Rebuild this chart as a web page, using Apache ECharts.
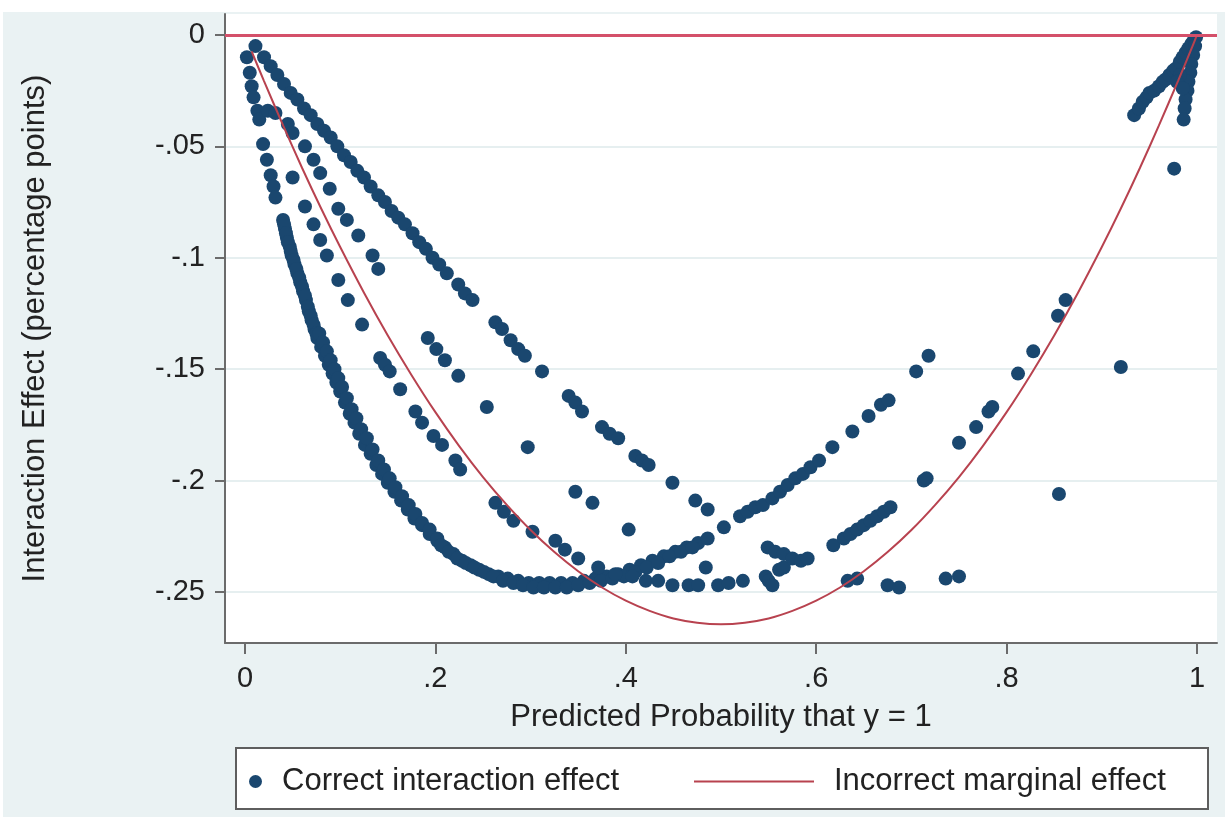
<!DOCTYPE html>
<html>
<head>
<meta charset="utf-8">
<title>Interaction effect vs predicted probability</title>
<script src="https://cdn.jsdelivr.net/npm/echarts@6.0.0/dist/echarts.min.js"></script>
<style>
html, body { margin: 0; padding: 0; background: #fff; }
#chart { position: absolute; left: 3px; top: 12px; width: 1222px; height: 805px; }
</style>
</head>
<body>
<div id="chart"></div>
<script>
// tick positions
var xTicks = [0, 0.2, 0.4, 0.6, 0.8, 1];
var yTicks = [0, -0.05, -0.1, -0.15, -0.2, -0.25];

var bandMain = [
	[0.002,-0.010],[0.005,-0.017],[0.007,-0.023],[0.009,-0.028],[0.013,-0.034],[0.015,-0.038],
	[0.019,-0.049],[0.023,-0.056],[0.027,-0.063],[0.030,-0.068],[0.032,-0.073],
	[0.040,-0.083],[0.042,-0.087],[0.044,-0.091],[0.047,-0.095],[0.049,-0.099],[0.052,-0.103],
	[0.055,-0.107],[0.058,-0.111],[0.061,-0.115],[0.064,-0.119],[0.067,-0.124],[0.070,-0.128],
	[0.073,-0.132],[0.076,-0.136],[0.080,-0.140],[0.084,-0.144],[0.088,-0.148],[0.092,-0.152],
	[0.096,-0.156],[0.100,-0.160],[0.105,-0.165],[0.110,-0.170],[0.115,-0.174],[0.120,-0.179],
	[0.126,-0.184],[0.132,-0.188],[0.138,-0.193],[0.144,-0.197],[0.150,-0.201],[0.157,-0.205],
	[0.164,-0.209],[0.171,-0.213],[0.178,-0.217],[0.186,-0.220],[0.194,-0.224],[0.202,-0.227],
	[0.210,-0.230],[0.219,-0.233],[0.228,-0.236],[0.237,-0.238],[0.246,-0.240],[0.256,-0.242],
	[0.266,-0.243],[0.276,-0.244],[0.287,-0.245],[0.298,-0.246],[0.309,-0.246],[0.320,-0.246],
	[0.332,-0.246],[0.344,-0.246],[0.356,-0.245],[0.368,-0.244],[0.380,-0.243],[0.392,-0.242],
	[0.404,-0.240],[0.416,-0.238],[0.428,-0.236],[0.440,-0.234],[0.452,-0.232],[0.464,-0.230],
	[0.476,-0.228],[0.486,-0.226]
];
var bandEdge = [
	[0.041,-0.085],[0.043,-0.089],[0.045,-0.093],[0.048,-0.097],[0.051,-0.101],[0.054,-0.105],
	[0.057,-0.109],[0.060,-0.113],[0.063,-0.117],[0.066,-0.122],[0.069,-0.126],[0.072,-0.130],
	[0.075,-0.134]
];
var bandInner = [
	[0.078,-0.134],[0.082,-0.138],[0.086,-0.142],[0.090,-0.146],[0.094,-0.150],[0.098,-0.154],
	[0.102,-0.158],[0.107,-0.163],[0.112,-0.168],[0.117,-0.172],[0.122,-0.177],[0.128,-0.181],
	[0.134,-0.186],[0.140,-0.191],[0.146,-0.195],[0.152,-0.199],[0.158,-0.203],[0.165,-0.207],
	[0.172,-0.211],[0.179,-0.215],[0.186,-0.219],[0.194,-0.222],[0.202,-0.226],
	[0.206,-0.229],[0.214,-0.232],[0.223,-0.235],[0.232,-0.237],[0.241,-0.239],[0.251,-0.241],
	[0.261,-0.243],[0.271,-0.245],[0.282,-0.246],[0.292,-0.247],[0.303,-0.248],[0.314,-0.248],
	[0.326,-0.248],[0.338,-0.248],[0.350,-0.247],[0.362,-0.246],[0.374,-0.245],[0.386,-0.244],
	[0.398,-0.243],[0.410,-0.241],[0.422,-0.239],[0.434,-0.237],[0.446,-0.234],[0.458,-0.232],
	[0.470,-0.230]
];
var armUpper = [
	[0.011,-0.005],[0.020,-0.010],[0.027,-0.014],[0.034,-0.018],[0.041,-0.022],[0.048,-0.026],
	[0.055,-0.029],[0.062,-0.033],[0.069,-0.036],[0.076,-0.040],[0.083,-0.043],[0.090,-0.046],
	[0.097,-0.050],[0.104,-0.054],[0.111,-0.057],[0.118,-0.061],[0.125,-0.064],[0.132,-0.068],
	[0.140,-0.072],[0.147,-0.075],[0.154,-0.079],[0.161,-0.082],[0.168,-0.085],[0.176,-0.089],
	[0.183,-0.093],[0.190,-0.096],[0.197,-0.100],[0.204,-0.103],[0.212,-0.107],[0.224,-0.112],
	[0.231,-0.116],[0.239,-0.119],[0.263,-0.129],[0.270,-0.132],[0.279,-0.137],[0.287,-0.141],
	[0.294,-0.144],[0.312,-0.151],[0.340,-0.162],[0.347,-0.165],[0.354,-0.169],[0.375,-0.176],
	[0.383,-0.179],[0.392,-0.181],[0.410,-0.189],[0.417,-0.191],[0.424,-0.193],[0.449,-0.201],
	[0.473,-0.209],[0.486,-0.213]
];
var armMiddle = [
	[0.045,-0.040],[0.050,-0.044],[0.063,-0.050],[0.072,-0.056],[0.079,-0.062],[0.089,-0.069],
	[0.098,-0.078],[0.107,-0.083],[0.119,-0.090],[0.134,-0.099],[0.140,-0.105],[0.192,-0.136],
	[0.201,-0.141],[0.210,-0.146],[0.224,-0.153],[0.254,-0.167],[0.297,-0.185],[0.347,-0.205],
	[0.365,-0.210],[0.403,-0.222],[0.484,-0.239]
];
var armInner = [
	[0.024,-0.034],[0.032,-0.035],
	[0.050,-0.064],[0.063,-0.077],[0.072,-0.085],[0.079,-0.092],[0.086,-0.099],[0.098,-0.110],
	[0.108,-0.119],[0.123,-0.130],[0.142,-0.145],[0.147,-0.148],[0.152,-0.151],[0.163,-0.159],
	[0.179,-0.169],[0.186,-0.174],[0.198,-0.180],[0.207,-0.184],[0.221,-0.191],[0.226,-0.195],
	[0.263,-0.210],[0.272,-0.214],[0.282,-0.218],[0.302,-0.223],[0.326,-0.227],[0.336,-0.231],
	[0.350,-0.235],[0.371,-0.239],[0.389,-0.242]
];
var lowerTrail = [
	[0.407,-0.243],[0.421,-0.245],[0.434,-0.245],[0.449,-0.247],[0.466,-0.247],[0.476,-0.247],
	[0.497,-0.247],[0.508,-0.246],[0.523,-0.245],[0.547,-0.243],[0.550,-0.245],[0.554,-0.247],
	[0.561,-0.240],[0.566,-0.239],[0.633,-0.245],[0.643,-0.244],[0.675,-0.247],[0.687,-0.248],
	[0.736,-0.244],[0.750,-0.243]
];
var shortRun = [
	[0.549,-0.230],[0.557,-0.232],[0.566,-0.233],[0.575,-0.235],[0.584,-0.236],[0.591,-0.235]
];
var riseRight = [
	[0.503,-0.221],[0.520,-0.216],[0.528,-0.214],[0.536,-0.212],[0.544,-0.211],
	[0.554,-0.208],[0.562,-0.205],[0.570,-0.202],[0.578,-0.199],[0.586,-0.197],[0.594,-0.194],
	[0.603,-0.191],[0.617,-0.185],[0.638,-0.178],[0.655,-0.171],[0.668,-0.166],[0.676,-0.164],
	[0.705,-0.151],[0.718,-0.144]
];
var riseOuter = [
	[0.618,-0.229],[0.629,-0.226],[0.636,-0.224],[0.643,-0.222],[0.650,-0.220],[0.657,-0.218],
	[0.664,-0.216],[0.671,-0.214],[0.678,-0.212],[0.713,-0.200],[0.716,-0.199],[0.750,-0.183],
	[0.768,-0.176],[0.781,-0.169],[0.785,-0.167],[0.812,-0.152],[0.828,-0.142],[0.854,-0.126],
	[0.862,-0.119]
];
var cornerCluster = [
	[0.934,-0.036],[0.939,-0.033],[0.943,-0.030],[0.947,-0.028],[0.950,-0.026],[0.955,-0.025],
	[0.960,-0.023],[0.964,-0.021],[0.967,-0.020],[0.971,-0.018],[0.975,-0.016],[0.978,-0.015],
	[0.982,-0.012],[0.985,-0.010],[0.988,-0.008],[0.991,-0.006],[0.994,-0.004],[0.997,-0.002],
	[0.999,-0.001],[0.998,-0.005],[0.996,-0.009],[0.994,-0.013],[0.993,-0.017],[0.991,-0.021],
	[0.990,-0.025],[0.988,-0.029],[0.987,-0.033],[0.986,-0.038],[0.982,-0.018],[0.979,-0.021],
	[0.985,-0.024],[0.976,-0.060]
];
var strayPoints = [[0.920,-0.149],[0.855,-0.206]];

// incorrect marginal effect (red curve)
var marginalP = [0.007,0.02,0.04,0.06,0.08,0.10,0.125,0.15,0.175,0.20,0.225,0.25,0.275,0.30,
	0.325,0.35,0.375,0.40,0.425,0.45,0.475,0.50,0.525,0.55,0.575,0.60,0.625,0.65,0.675,0.70,
	0.725,0.75,0.775,0.80,0.825,0.85,0.875,0.90,0.92,0.94,0.96,0.98,0.993,1.0];
var marginalEffect = [-0.0074,-0.0207,-0.0406,-0.0597,-0.0779,-0.0952,-0.1157,-0.1349,-0.1527,
	-0.1693,-0.1845,-0.1984,-0.2109,-0.2222,-0.2321,-0.2407,-0.2480,-0.2539,-0.2585,-0.2619,
	-0.2638,-0.2645,-0.2638,-0.2619,-0.2585,-0.2539,-0.2480,-0.2407,-0.2321,-0.2222,-0.2109,
	-0.1984,-0.1845,-0.1693,-0.1527,-0.1349,-0.1157,-0.0952,-0.0779,-0.0597,-0.0406,-0.0207,
	-0.0074,0];

var navy = '#1a476f';
var curveRed = '#b8424f';
var axisGrey = '#6b6b6b';
var font = 'Liberation Sans, Arial, Helvetica, sans-serif';

function stataLabel(v) {
	if (v === 0) return '0';
	if (v === 1) return '1';
	return String(v).replace('0.', '.');
}

var dots = [].concat(bandMain, bandEdge, bandInner, armUpper, armMiddle, armInner, lowerTrail,
	shortRun, riseRight, riseOuter, cornerCluster, strayPoints);
var curve = marginalP.map(function (p, i) { return [p, marginalEffect[i]]; });

var chart = echarts.init(document.getElementById('chart'));
var option = {
	backgroundColor: '#eaf2f3',
	textStyle: { fontFamily: font },
	animation: false,
	grid: { left: 222, top: 2, width: 992, height: 629, show: true, backgroundColor: '#fff', borderWidth: 0 },
	graphic: [{
		type: 'rect', left: 232, top: 735, z: 0,
		shape: { width: 972, height: 61 },
		style: { fill: '#fff', stroke: '#5e5e5e', lineWidth: 2 }
	}],
	legend: [{
		data: ['Correct interaction effect'],
		left: 246, top: 754, padding: 0, itemGap: 0,
		icon: 'circle', itemWidth: 13, itemHeight: 13,
		textStyle: { fontSize: 31, color: '#222', fontFamily: font, padding: [0, 0, 0, 15] }
	}, {
		data: ['Incorrect marginal effect'],
		left: 690, top: 754, padding: 0, itemGap: 0,
		itemWidth: 120, itemHeight: 13,
		itemStyle: { opacity: 0 },
		lineStyle: { color: curveRed, width: 2 },
		textStyle: { fontSize: 31, color: '#222', fontFamily: font, padding: [0, 0, 0, 15] }
	}],
	xAxis: {
		type: 'value', min: -0.021, max: 1.021,
		name: 'Predicted Probability that y = 1',
		nameLocation: 'middle', nameGap: 59,
		nameTextStyle: { fontSize: 31, color: '#222' },
		axisLine: { show: true, onZero: false, lineStyle: { color: axisGrey, width: 2 } },
		axisTick: { show: true, customValues: xTicks, length: 11, lineStyle: { color: axisGrey, width: 2 } },
		axisLabel: { customValues: xTicks, formatter: stataLabel, fontSize: 29, color: '#222', margin: 21 },
		splitLine: { show: false }
	},
	yAxis: {
		type: 'value', min: -0.2729, max: 0.0094,
		name: 'Interaction Effect (percentage points)',
		nameLocation: 'middle', nameGap: 174,
		nameTextStyle: { fontSize: 31, color: '#222' },
		axisLine: { show: true, onZero: false, lineStyle: { color: axisGrey, width: 2 } },
		axisTick: { show: true, customValues: yTicks, length: 10, lineStyle: { color: axisGrey, width: 2 } },
		axisLabel: { customValues: yTicks, formatter: stataLabel, fontSize: 29, color: '#222', margin: 20 },
		splitLine: { show: true, lineStyle: { color: '#e6eff0', width: 2 } }
	},
	series: [{
		name: 'zero line',
		type: 'line',
		data: [],
		z: 1,
		markLine: {
			silent: true,
			symbol: ['none', 'none'],
			label: { show: false },
			lineStyle: { color: '#d4506a', width: 3, type: 'solid' },
			data: [{ yAxis: 0 }]
		}
	}, {
		name: 'Correct interaction effect',
		type: 'scatter',
		data: dots,
		symbol: 'circle',
		symbolSize: 14,
		itemStyle: { color: navy, opacity: 1 },
		z: 2
	}, {
		name: 'Incorrect marginal effect',
		type: 'line',
		data: curve,
		smooth: 0.3,
		symbol: 'none',
		showSymbol: false,
		lineStyle: { color: curveRed, width: 2 },
		itemStyle: { color: curveRed },
		z: 3
	}]
};
chart.setOption(option);
</script>
</body>
</html>
